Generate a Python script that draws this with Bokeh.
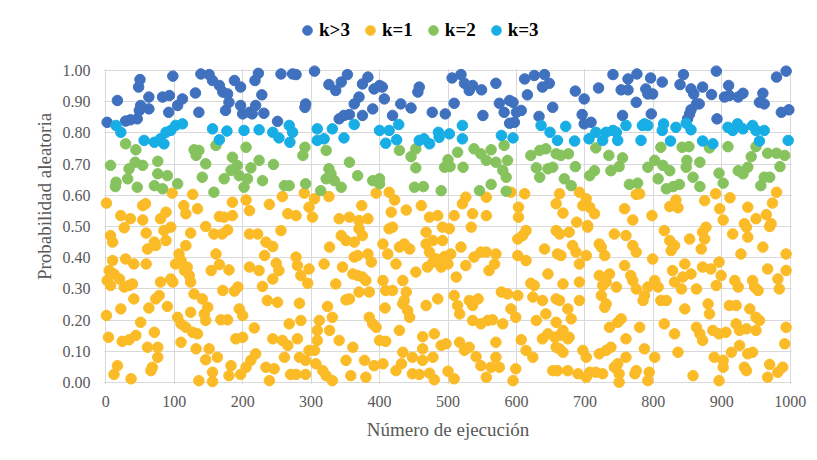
from bokeh.plotting import figure
from bokeh.models import FixedTicker, PrintfTickFormatter, Legend, LegendItem, Range1d, BoxAnnotation
from bokeh.embed import file_html
from bokeh.resources import INLINE

# ---------------- data ----------------
series_names = ["k>3", "k=1", "k=2", "k=3"]
series_colors = ["#3F71BF", "#FBBB27", "#86C35E", "#17ADE5"]

kgt3_points = [
    (2,.834),(17,.904),(29,.838),(36,.842),(46,.845),(49,.872),(51,.888),(48,.947),(50,.971),(63,.915),
    (63,.877),(83,.915),(93,.920),(92,.866),(98,.982),(105,.888),(112,.909),(131,.928),(136,.866),(139,.989),
    (151,.987),(156,.968),(166,.952),(171,.931),(178,.925),(180,.898),(175,.872),(188,.968),(197,.947),(197,.888),
    (200,.861),(210,.866),(214,.861),(219,.888),(218,.968),(223,.991),(228,.922),(231,.863),(251,.837),(256,.989),
    (273,.989),(278,.987),(292,.893),(291,.882),(305,.998),(326,.955),
    (336,.936),(344,.963),(353,.987),(375,.957),(383,.979),(392,.941),(400,.952),(404,.947),(370,.915),(363,.893),
    (375,.856),(390,.877),(407,.909),(431,.893),(446,.880),(419,.856),(458,.947),(456,.931),(477,.866),(496,.861),
    (509,.895),(506,.976),(519,.987),(524,.959),(536,.952),(549,.938),(531,.936),(570,.959),(551,.856),(575,.895),
    (582,.866),(590,.904),(595,.898),(600,.866),(590,.831),(597,.834),(607,.872),(612,.973),(616,.922),(626,.984),
    (641,.987),(648,.959),(638,.947),(633,.853),(653,.882),(341,.845),(348,.856),(356,.859),
    (686,.934),(699,.909),(696,.859),(699,.829),(709,.834),(720,.944),(741,.987),(753,.938),(763,.973),(763,.938),
    (776,.989),(775,.898),(789,.941),(792,.925),(796,.976),(799,.925),(797,.861),(813,.963),(839,.955),(844,.987),
    (855,.941),(859,.925),(863,.893),(867,.893),(872,.947),(853,.861),(850,.845),(855,.874),(885,.923),(892,.998),
    (893,.845),(904,.915),(911,.920),(910,.952),(924,.915),(931,.927),(955,.898),(960,.927),(962,.893),(980,.979),
    (994,.998),(987,.866),(998,.874),(755,.856),
]

k3_points = [
    (15,.824),(22,.802),(56,.776),(71,.770),(80,.781),(85,.765),(88,.802),(95,.808),(102,.824),(112,.829),
    (156,.813),(166,.778),(177,.806),(202,.808),(224,.810),(244,.802),(253,.784),(268,.824),(269,.770),(273,.802),
    (309,.813),(309,.776),(319,.781),
    (331,.813),(348,.784),(363,.827),(400,.808),(409,.767),(414,.808),(425,.778),(428,.827),(458,.776),(465,.781),
    (473,.765),(486,.802),(487,.786),(502,.797),(521,.824),(521,.781),(578,.792),(595,.784),(636,.824),(649,.802),
    (660,.776),
    (672,.821),(685,.774),(706,.781),(716,.802),(726,.776),(731,.802),(741,.808),(746,.802),(748,.776),(760,.824),
    (782,.776),(784,.824),(787,.829),(792,.824),(813,.808),(815,.829),(825,.774),(833,.818),(848,.831),(855,.810),
    (872,.774),(887,.765),(909,.818),(916,.808),(923,.829),(931,.813),(945,.824),(950,.808),(955,.774),(962,.808),
    (997,.776),
]

k2_points = [
    (7,.696),(15,.642),(14,.628),(29,.765),(32,.653),(34,.685),(43,.706),(44,.746),(46,.626),(54,.696),
    (71,.631),(76,.709),(76,.669),(83,.621),(90,.663),(105,.637),(129,.746),(132,.728),(136,.744),(146,.701),
    (141,.658),(158,.610),(161,.760),(173,.653),(183,.680),(185,.722),(192,.696),(195,.663),(202,.626),(205,.754),
    (207,.653),(212,.688),(224,.712),(229,.647),(245,.699),(261,.631),(268,.631),(291,.754),(288,.728),(292,.637),
    (314,.615),(322,.744),(322,.653),(326,.685),
    (329,.669),(334,.647),(344,.626),(356,.706),(368,.663),(390,.647),(400,.653),(400,.637),(429,.744),(446,.724),
    (453,.749),(453,.688),(451,.626),(464,.628),(490,.615),(495,.690),(500,.714),(503,.692),(514,.738),(522,.690),
    (538,.749),(548,.733),(556,.712),(563,.746),(563,.635),(570,.706),(582,.760),(580,.680),(585,.658),(587,.712),
    (585,.613),(546,.615),(621,.728),(629,.688),(634,.744),(634,.658),(643,.749),(646,.685),(653,.690),(658,.733),
    (665,.728),
    (676,.733),(686,.692),(670,.653),(680,.631),(707,.663),(714,.679),(716,.752),(735,.728),(738,.679),(750,.692),
    (755,.720),(765,.635),(777,.639),(792,.690),(802,.712),(807,.653),(811,.754),(814,.696),(824,.679),(819,.621),
    (829,.628),(838,.635),(842,.754),(852,.756),(848,.690),(849,.712),(858,.658),(868,.628),(868,.706),(882,.752),
    (896,.671),(902,.639),(909,.756),(924,.679),(931,.669),(938,.690),(943,.724),(950,.756),(957,.631),(962,.658),
    (970,.658),(967,.735),(980,.735),(985,.692),(992,.728),
]

k1_points = [
    # upper band (0.50 - 0.61)
    (1,.575),(22,.535),(36,.525),(54,.567),(58,.573),(54,.521),(80,.525),(88,.546),(97,.607),(114,.567),
    (117,.541),(127,.603),(134,.557),(166,.532),(173,.530),(185,.535),(185,.578),(205,.585),(210,.551),(239,.571),
    (258,.596),(266,.541),(278,.535),(290,.607),(297,.562),(302,.530),(305,.589),(326,.596),
    (341,.525),(356,.530),(370,.519),(383,.525),(374,.567),(395,.607),(414,.610),(422,.585),(417,.546),(439,.553),
    (461,.567),(473,.530),(485,.535),(509,.535),(521,.573),(526,.594),(536,.541),(556,.594),(556,.535),(592,.610),
    (612,.605),(603,.562),(603,.530),(658,.573),(663,.605),
    (668,.543),(692,.610),(702,.589),(697,.567),(707,.562),(714,.541),(688,.514),(704,.503),(758,.557),(770,.521),
    (775,.603),(780,.605),(798,.535),(824,.564),(833,.585),(836,.560),(875,.583),(891,.605),(897,.557),(902,.521),
    (912,.592),(938,.562),(950,.525),(965,.538),(972,.509),(974,.575),(980,.610),(933,.509),
    # runs 0 - 330
    (7,.471),(10,.450),(27,.496),(59,.479),(61,.428),(71,.450),(73,.439),(88,.455),(85,.487),(95,.498),
    (117,.439),(124,.479),(146,.500),(158,.476),(161,.412),(170,.476),(178,.489),(210,.476),(222,.476),(234,.450),
    (244,.436),(256,.487),(10,.391),(29,.396),(41,.380),(59,.380),(5,.359),(12,.348),(20,.332),(2,.327),
    (7,.311),(27,.306),(34,.311),(41,.268),(39,.316),(80,.322),(95,.332),(98,.322),(102,.380),(110,.391),
    (115,.359),(119,.370),(122,.343),(124,.322),(154,.359),(166,.378),(180,.361),(210,.370),(224,.359),(232,.407),
    (244,.332),(249,.382),(253,.359),(278,.402),(280,.375),(297,.364),(285,.343),(295,.318),(319,.380),(229,.308),
    (171,.295),(188,.293),(193,.306),(129,.284),(141,.268),(149,.241),(144,.220),(146,.199),(124,.225),(105,.209),
    (110,.188),(117,.177),(127,.161),(134,.156),(73,.268),(78,.279),(90,.244),(63,.239),(22,.236),(1,.215),
    (51,.193),(71,.161),(44,.151),(24,.132),(34,.137),(4,.145),(61,.113),(76,.113),(76,.081),(68,.049),
    (66,.038),(17,.054),(12,.026),(37,.012),(110,.129),(132,.108),(151,.108),(146,.073),(163,.081),(156,.033),
    (156,.003),(136,.006),(180,.022),(183,.054),(168,.201),(178,.201),(195,.236),(200,.215),(217,.175),(190,.140),
    (200,.145),(219,.092),(212,.071),(205,.049),(197,.026),(234,.049),(246,.044),(239,.006),(244,.140),(258,.135),
    (266,.119),(261,.081),(280,.140),(268,.188),(285,.199),(312,.199),(309,.167),(309,.135),(297,.103),(305,.103),
    (283,.081),(292,.071),(307,.060),(317,.038),(322,.022),(278,.026),(270,.026),(292,.026),(236,.263),(251,.257),
    (283,.254),(324,.244),(327,.434),(107,.412),
    # runs 330 - 660
    (344,.471),(351,.455),(363,.450),(370,.493),(375,.471),(346,.370),(336,.316),(363,.402),(368,.407),(383,.412),
    (388,.386),(361,.348),(368,.343),(375,.338),(380,.327),(370,.290),(385,.290),(351,.265),(356,.268),(331,.209),
    (385,.209),(390,.188),(395,.177),(327,.167),(341,.135),(361,.113),(351,.071),(358,.022),(380,.017),(378,.071),
    (392,.054),(405,.060),(400,.135),(409,.132),(331,.006),(429,.167),(434,.097),(424,.038),(432,.060),(448,.081),
    (463,.071),(478,.081),(448,.028),(458,.026),(473,.030),(480,.009),(463,.147),(463,.108),(480,.156),(490,.119),
    (497,.124),(500,.036),(509,.012),(517,.129),(524,.103),(531,.113),(541,.083),(548,.054),(556,.017),(563,.049),
    (570,.081),(575,.049),(570,.129),(599,.044),(595,.006),(607,.137),(614,.103),(624,.081),(638,.140),(646,.156),
    (656,.145),(658,.113),(653,.038),(405,.327),(409,.295),(419,.295),(439,.290),(434,.327),(436,.263),(441,.231),
    (444,.209),(408,.239),(434,.252),(468,.247),(485,.268),(453,.354),(470,.370),(478,.386),(490,.370),(495,.404),
    (500,.380),(504,.412),(492,.455),(512,.338),(526,.375),(519,.434),(538,.402),(548,.418),(556,.418),(570,.412),
    (560,.359),(568,.380),(509,.279),(514,.247),(517,.220),(531,.263),(536,.247),(544,.268),(536,.199),(548,.188),
    (558,.199),(565,.201),(580,.188),(578,.290),(587,.284),(602,.279),(592,.236),(599,.209),(602,.460),(609,.471),
    (614,.487),(602,.407),(614,.391),(621,.318),(626,.311),(624,.274),(638,.263),(643,.220),(658,.268),(658,.193),
    (629,.199),(646,.348),(641,.428),(658,.487),(660,.412),(405,.444),(412,.412),(424,.380),(436,.444),(444,.428),
    (429,.434),(468,.444),(478,.455),(473,.418),(483,.396),(414,.493),(419,.498),(468,.482),(492,.498),(502,.493),
    (534,.498),
    # runs 660 - 1000
    (663,.476),(677,.482),(704,.498),(682,.439),(687,.418),(702,.407),(665,.407),(692,.380),(721,.444),(724,.434),
    (729,.407),(743,.476),(760,.471),(770,.439),(775,.418),(758,.375),(767,.343),(770,.327),(668,.316),(692,.322),
    (721,.343),(726,.311),(731,.322),(736,.348),(746,.306),(724,.279),(775,.300),(787,.279),(785,.263),(792,.306),
    (802,.327),(807,.306),(799,.396),(816,.487),(824,.455),(831,.439),(826,.423),(853,.460),(872,.482),(875,.460),
    (870,.428),(877,.498),(828,.359),(831,.322),(846,.380),(843,.338),(855,.348),(841,.300),(863,.300),(872,.370),
    (884,.364),(896,.386),(899,.343),(892,.311),(916,.476),(936,.498),(938,.466),(928,.412),(960,.434),(970,.500),
    (994,.412),(994,.359),(967,.364),(982,.332),(984,.300),(919,.327),(924,.306),(945,.327),(948,.306),(953,.295),
    (663,.263),(675,.236),(680,.204),(692,.263),(729,.241),(731,.252),(748,.193),(736,.177),(753,.204),(780,.177),
    (760,.140),(811,.263),(819,.263),(846,.236),(880,.252),(882,.220),(911,.247),(921,.247),(941,.236),(950,.209),
    (955,.199),(816,.188),(831,.156),(863,.177),(868,.156),(872,.135),(887,.167),(896,.156),(906,.161),(921,.188),
    (926,.167),(936,.172),(950,.167),(994,.177),(663,.151),(675,.140),(663,.108),(668,.097),(697,.103),(702,.081),
    (721,.092),(731,.103),(738,.113),(760,.081),(748,.060),(743,.049),(750,.028),(750,.001),(787,.108),(802,.081),
    (836,.097),(775,.038),(773,.028),(794,.033),(792,.006),(858,.022),(889,.081),(902,.071),(902,.049),(896,.006),
    (914,.097),(926,.119),(938,.092),(945,.097),(933,.049),(936,.038),(970,.058),(989,.049),(992,.124),(967,.017),
    (982,.033),(726,.028),(716,.033),(707,.033),(702,.017),(690,.028),(675,.038),(660,.038),(668,.167),(677,.145),
]

x_ticks = [0, 100, 200, 300, 400, 500, 600, 700, 800, 900, 1000]
y_ticks = [0.0, 0.1, 0.2, 0.3, 0.4, 0.5, 0.6, 0.7, 0.8, 0.9, 1.0]
x_title = "Número de ejecución"
y_title = "Probabilidad aleatoria"

# ---------------- figure ----------------
FONT = "Liberation Serif"
X0, X1 = -15, 1015            # a little room so edge markers are not cut
Y0, Y1 = -0.032, 1.2244       # room above 1.00 holds the legend
p = figure(width=815, height=452, output_backend="svg", toolbar_location=None,
           x_range=Range1d(X0, X1), y_range=Range1d(Y0, Y1),
           min_border_left=95, min_border_right=15, min_border_top=0, min_border_bottom=60)
p.background_fill_color = "white"
p.border_fill_color = "white"
p.outline_line_color = None

p.xgrid.grid_line_color = "#D9D9D9"
p.ygrid.grid_line_color = "#D9D9D9"
p.xgrid.ticker = FixedTicker(ticks=x_ticks)
p.ygrid.ticker = FixedTicker(ticks=y_ticks)

# white masks so that grid lines stop at the plot-area edges
for kw in (dict(bottom=1.0048), dict(top=-0.0048), dict(right=-2.2), dict(left=1002.2)):
    p.add_layout(BoxAnnotation(fill_color="white", fill_alpha=1.0, line_alpha=0,
                               level="underlay", **kw))

renderers = []
all_points = [kgt3_points, k1_points, k2_points, k3_points]
for pts, color in zip(all_points, series_colors):
    xs = [a for a, b in pts]
    ys = [b for a, b in pts]
    r = p.scatter(xs, ys, marker="circle", size=10.5, fill_color=color,
                  line_color=color, line_width=1)
    renderers.append(r)

for ax in (p.xaxis[0], p.yaxis[0]):
    ax.major_tick_line_color = None
    ax.minor_tick_line_color = None
    ax.axis_line_color = None
    ax.major_label_text_font = FONT
    ax.major_label_text_font_size = "16px"
    ax.major_label_text_color = "#595959"
    ax.axis_label_text_font = FONT
    ax.axis_label_text_font_size = "19px"
    ax.axis_label_text_font_style = "normal"
    ax.axis_label_text_color = "#595959"

p.xaxis.ticker = FixedTicker(ticks=x_ticks)
p.yaxis.ticker = FixedTicker(ticks=y_ticks)
p.yaxis.formatter = PrintfTickFormatter(format="%.2f")
p.xaxis.axis_label = x_title
p.yaxis.axis_label = y_title
p.xaxis.major_label_standoff = -3
p.yaxis.major_label_standoff = -1
p.xaxis.axis_label_standoff = 9
p.yaxis.axis_label_standoff = 5

legend = Legend(items=[LegendItem(label=n, renderers=[r]) for n, r in zip(series_names, renderers)],
                orientation="horizontal", location=(200, 350),
                label_text_font=FONT, label_text_font_size="19px", label_text_font_style="bold",
                label_text_color="#000000", glyph_width=24, glyph_height=24, label_standoff=0,
                spacing=8, padding=0, margin=0, border_line_color=None, background_fill_alpha=0,
                label_height=20)
p.add_layout(legend, "center")

open("out.html", "w").write(file_html(p, INLINE))
